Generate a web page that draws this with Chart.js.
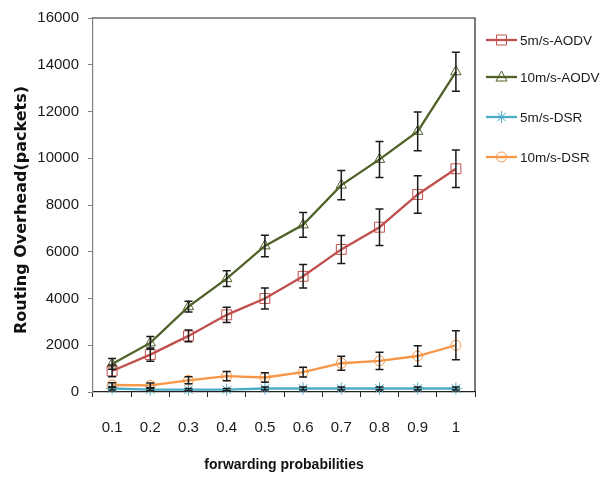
<!DOCTYPE html>
<html><head><meta charset="utf-8">
<script src="https://cdn.jsdelivr.net/npm/chart.js@4.4.0/dist/chart.umd.min.js"></script>
<style>html,body{margin:0;padding:0;background:#fff;}#wrap{width:611px;height:481px;}</style>
</head><body><div id="wrap"><canvas id="c" width="611" height="481"></canvas></div>
<script>
const categories = ['0.1','0.2','0.3','0.4','0.5','0.6','0.7','0.8','0.9','1'];
const yTicks = [0,2000,4000,6000,8000,10000,12000,14000,16000];
const seriesNames = ['5m/s-AODV','10m/s-AODV','5m/s-DSR','10m/s-DSR'];
const aodv5    = [900,1600,2400,3300,4000,4950,6100,7050,8450,9550];
const aodv5Err = [250,280,250,330,450,500,600,780,800,800];
const aodv10    = [1200,2100,3650,4850,6250,7150,8850,9950,11150,13700];
const aodv10Err = [230,270,230,340,460,530,630,770,830,830];
const dsr5    = [150,100,100,100,150,150,150,150,150,150];
const dsr5Err = [60,50,50,50,60,60,60,60,60,60];
const dsr10    = [300,280,500,680,620,850,1230,1330,1540,2000];
const dsr10Err = [100,100,150,200,200,210,300,370,440,620];

const FONT = '"Liberation Sans",Arial,sans-serif';
const colors = ['#c0504d','#4f6228','#4bacc6','#f79646'];
const markers = ['rect','triangle','star','circle'];
const radii = [7,6,6,5];
const values = [aodv5,aodv10,dsr5,dsr10];
const errors = [aodv5Err,aodv10Err,dsr5Err,dsr10Err];

const datasets = seriesNames.map((n,i)=>({
  label:n, data:values[i], borderColor:colors[i], borderWidth:2.3,
  pointStyle:markers[i], pointRadius:radii[i], pointBorderColor:colors[i],
  pointBorderWidth:1, pointBackgroundColor:'rgba(255,255,255,0)', tension:0, clip:false
}));

function drawMarker(ctx, style, x, y, color){
  ctx.save(); ctx.strokeStyle=color; ctx.lineWidth=1; ctx.beginPath();
  if(style==='rect'){ ctx.rect(x-5,y-5,10,10); }
  else if(style==='triangle'){ ctx.moveTo(x,y-6); ctx.lineTo(x+5.5,y+4); ctx.lineTo(x-5.5,y+4); ctx.closePath(); }
  else if(style==='star'){ for(let k=0;k<4;k++){const a=k*Math.PI/4; ctx.moveTo(x-6*Math.cos(a),y-6*Math.sin(a)); ctx.lineTo(x+6*Math.cos(a),y+6*Math.sin(a));} }
  else { ctx.arc(x,y,5,0,Math.PI*2); }
  ctx.stroke(); ctx.restore();
}

const errorBars = {
  id:'errorBars',
  afterDatasetsDraw(chart){
    const ctx=chart.ctx, ys=chart.scales.y;
    errors.forEach((errs,di)=>{
      const meta=chart.getDatasetMeta(di);
      errs.forEach((e,i)=>{
        const p=meta.data[i], v=values[di][i];
        const yt=ys.getPixelForValue(v+e), yb=ys.getPixelForValue(Math.max(v-e,0));
        ctx.save(); ctx.strokeStyle='#1a1a1a'; ctx.lineWidth=1.5;
        ctx.beginPath();
        ctx.moveTo(p.x,yt); ctx.lineTo(p.x,yb);
        ctx.moveTo(p.x-4,yt); ctx.lineTo(p.x+4,yt);
        ctx.moveTo(p.x-4,yb); ctx.lineTo(p.x+4,yb);
        ctx.stroke(); ctx.restore();
      });
    });
  }
};

const frame = {
  id:'frame',
  beforeDatasetsDraw(chart){
    const {ctx,chartArea:a}=chart;
    ctx.save(); ctx.strokeStyle='#222'; ctx.lineWidth=1.2;
    ctx.beginPath(); ctx.moveTo(a.left,a.top); ctx.lineTo(a.right,a.top); ctx.lineTo(a.right,a.bottom); ctx.stroke();
    ctx.restore();
  }
};

const yTitleText = 'Routing Overhead(packets)';
const extras = {
  id:'extras',
  afterDraw(chart){
    const ctx=chart.ctx;
    ctx.save();
    ctx.translate(22,210); ctx.rotate(-Math.PI/2);
    ctx.fillStyle='#111'; ctx.font='bold 16px "DejaVu Sans",Verdana,sans-serif';
    ctx.textAlign='center'; ctx.textBaseline='middle';
    ctx.fillText(yTitleText,0,0);
    ctx.restore();
    const ys=[40,77,117,157];
    seriesNames.forEach((n,i)=>{
      const y=ys[i];
      ctx.save();
      ctx.strokeStyle=colors[i]; ctx.lineWidth=2.3;
      ctx.beginPath(); ctx.moveTo(486,y); ctx.lineTo(517,y); ctx.stroke();
      drawMarker(ctx,markers[i],501.5,y,colors[i]);
      ctx.fillStyle='#1a1a1a'; ctx.font='13.5px '+FONT; ctx.textBaseline='middle'; ctx.textAlign='left';
      ctx.fillText(n,520,y+1);
      ctx.restore();
    });
  }
};

new Chart(document.getElementById('c'),{
  type:'line',
  data:{labels:categories, datasets},
  plugins:[frame,errorBars,extras],
  options:{
    responsive:false, animation:false, devicePixelRatio:1,
    layout:{padding:{left:0,top:13,right:136,bottom:0}},
    plugins:{legend:{display:false},tooltip:{enabled:false}},
    scales:{
      x:{
        type:'category', offset:true,
        grid:{offset:true,drawOnChartArea:false,tickLength:5,color:'#222',lineWidth:1},
        border:{color:'#222',width:1.2},
        ticks:{color:'#1a1a1a',font:{family:FONT,size:15},padding:22,maxRotation:0},
        title:{display:true,text:'forwarding probabilities',color:'#111',font:{family:FONT,size:14,weight:'bold'},padding:{top:0,bottom:7}},
        afterFit(s){ s.height=89; }
      },
      y:{
        min:0,max:16000,
        afterBuildTicks(s){ s.ticks=yTicks.map(v=>({value:v})); },
        grid:{drawOnChartArea:false,tickLength:5,color:'#808080'},
        border:{color:'#808080',width:1.2},
        ticks:{color:'#1a1a1a',font:{family:FONT,size:15},padding:9,callback:(v)=>String(v)},
        afterFit(s){ s.width=93; }
      }
    }
  }
});
</script></body></html>
